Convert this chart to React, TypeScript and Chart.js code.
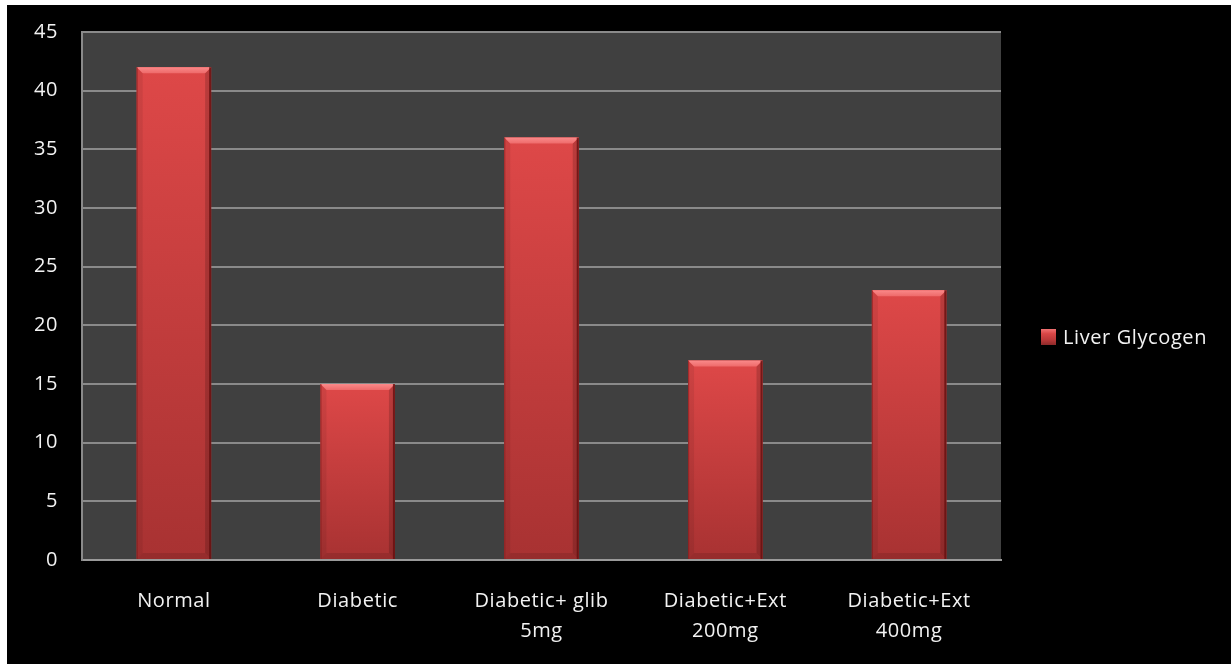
import React, { useEffect, useRef } from "react";
import { Chart, registerables } from "chart.js";

Chart.register(...registerables);

const categories: (string | string[])[] = [
  "Normal",
  "Diabetic",
  ["Diabetic+ glib", "5mg"],
  ["Diabetic+Ext", "200mg"],
  ["Diabetic+Ext", "400mg"],
];
const seriesLabel = "Liver Glycogen";
const glycogenValues = [42, 15, 36, 17, 23];
const yTicks = [0, 5, 10, 15, 20, 25, 30, 35, 40, 45];

const FONT = "'Open Sans', 'Noto Sans', sans-serif";
const FONT_SIZE = 20;
const TEXT = "#f2f2f2";

// Gray plotting surface behind the bars, plus slight tracking for all text
const plotBackground = {
  id: "plotBackground",
  beforeDraw(chart: any) {
    const { ctx, chartArea } = chart;
    ctx.letterSpacing = "0.6px";
    ctx.save();
    ctx.fillStyle = "#404040";
    ctx.fillRect(chartArea.left, chartArea.top, chartArea.right - chartArea.left, chartArea.bottom - chartArea.top);
    ctx.restore();
  },
};

// Bevelled, shaded face on each bar
const bevelBars = {
  id: "bevelBars",
  afterDatasetsDraw(chart: any) {
    const { ctx } = chart;
    const meta = chart.getDatasetMeta(0);
    meta.data.forEach((el: any) => {
      const { x, y, base, width } = el.getProps(["x", "y", "base", "width"], true);
      const x0 = x - width / 2;
      const x1 = x + width / 2;
      const y0 = y;
      const y1 = base;
      const b = 6;
      ctx.save();
      const g = ctx.createLinearGradient(0, y0, 0, y1);
      g.addColorStop(0, "#de4848");
      g.addColorStop(1, "#a83232");
      ctx.fillStyle = g;
      ctx.fillRect(x0, y0, width, y1 - y0);

      const poly = (pts: number[][], fill: any) => {
        ctx.beginPath();
        ctx.moveTo(pts[0][0], pts[0][1]);
        for (let i = 1; i < pts.length; i++) ctx.lineTo(pts[i][0], pts[i][1]);
        ctx.closePath();
        ctx.fillStyle = fill;
        ctx.fill();
      };
      // left
      poly([[x0, y0], [x0 + b, y0 + b], [x0 + b, y1 - b], [x0, y1]], "rgba(0,0,0,0.07)");
      // right
      poly([[x1, y0], [x1 - b, y0 + b], [x1 - b, y1 - b], [x1, y1]], "rgba(0,0,0,0.16)");
      // bottom
      poly([[x0, y1], [x0 + b, y1 - b], [x1 - b, y1 - b], [x1, y1]], "rgba(0,0,0,0.10)");
      // top
      const tg = ctx.createLinearGradient(0, y0, 0, y0 + b);
      tg.addColorStop(0, "#fa8a8a");
      tg.addColorStop(1, "#ee6a6a");
      poly([[x0, y0], [x1, y0], [x1 - b, y0 + b], [x0 + b, y0 + b]], tg);
      // outer edges
      ctx.fillStyle = "rgba(120,20,20,0.5)";
      ctx.fillRect(x0, y0, 1, y1 - y0);
      ctx.fillStyle = "rgba(100,15,15,0.8)";
      ctx.fillRect(x1 - 2, y0, 2, y1 - y0);
      ctx.restore();
    });
  },
};

// Legend entry at the right, drawn from the dataset label
const sideLegend = {
  id: "sideLegend",
  afterDraw(chart: any) {
    const { ctx } = chart;
    const ds = chart.data.datasets[0];
    const bx = 1034;
    const by = 324;
    const bw = 15;
    const bh = 16;
    ctx.save();
    const g = ctx.createLinearGradient(0, by, 0, by + bh);
    g.addColorStop(0, "#f07272");
    g.addColorStop(0.3, "#d84646");
    g.addColorStop(0.7, "#b83838");
    g.addColorStop(1, "#8e2a2a");
    ctx.fillStyle = g;
    ctx.fillRect(bx, by, bw, bh);
    ctx.fillStyle = TEXT;
    ctx.font = `${FONT_SIZE}px ${FONT}`;
    ctx.textBaseline = "middle";
    ctx.textAlign = "left";
    ctx.fillText(ds.label, 1056, 333);
    ctx.restore();
  },
};

export default function App() {
  const canvasRef = useRef<HTMLCanvasElement | null>(null);

  useEffect(() => {
    if (!canvasRef.current) return;
    const chart = new Chart(canvasRef.current, {
      type: "bar",
      data: {
        labels: categories,
        datasets: [
          {
            label: seriesLabel,
            data: glycogenValues,
            backgroundColor: "#c83e3e",
            borderWidth: 0,
            barPercentage: 0.405,
            categoryPercentage: 1,
          },
        ],
      },
      options: {
        animation: false,
        responsive: false,
        devicePixelRatio: 1,
        layout: { padding: { top: 27, right: 230, bottom: 0, left: 0 } },
        plugins: {
          legend: { display: false },
          tooltip: { enabled: false },
        },
        scales: {
          x: {
            grid: { display: false, drawTicks: false },
            border: { display: true, color: "#9a9a9a", width: 2 },
            ticks: {
              color: TEXT,
              padding: 26,
              font: { family: FONT, size: FONT_SIZE, lineHeight: 1.5 },
              maxRotation: 0,
              autoSkip: false,
            },
            afterFit(scale: any) {
              scale.height = 104;
            },
          },
          y: {
            min: 0,
            max: 45,
            afterBuildTicks(scale: any) {
              scale.ticks = yTicks.map((v) => ({ value: v }));
            },
            grid: { color: "#8a8a8a", lineWidth: 2, drawTicks: false },
            border: { display: true, color: "#8a8a8a", width: 2 },
            ticks: {
              color: TEXT,
              padding: 24,
              font: { family: FONT, size: FONT_SIZE },
            },
            afterFit(scale: any) {
              scale.width = 75;
              scale.paddingTop = 0;
              scale.paddingBottom = 0;
            },
          },
        },
      },
      plugins: [plotBackground, bevelBars, sideLegend],
    });
    return () => chart.destroy();
  }, []);

  return (
    <div
      style={{
        position: "absolute",
        left: 7,
        top: 5,
        width: 1224,
        height: 659,
        background: "#000",
      }}
    >
      <canvas ref={canvasRef} width={1224} height={659} />
    </div>
  );
}
